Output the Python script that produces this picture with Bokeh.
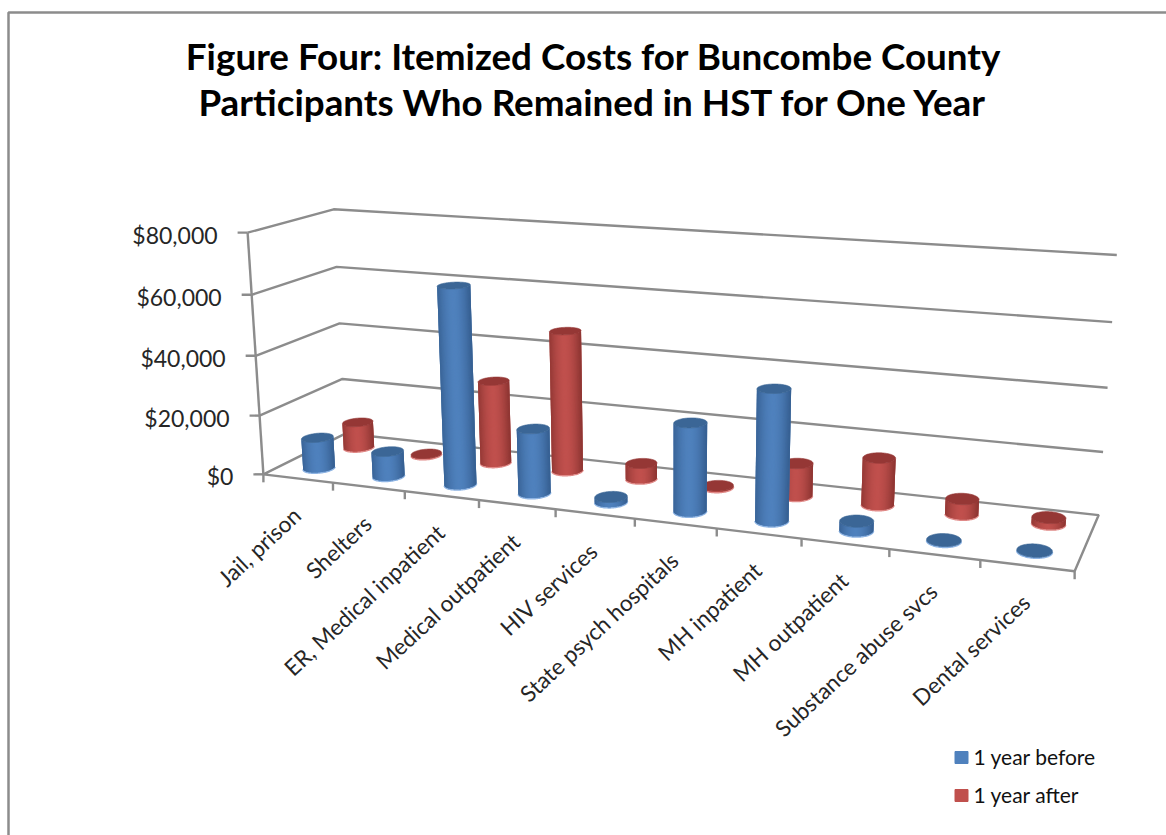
import numpy as np
from bokeh.core.properties import value
from bokeh.embed import file_html
from bokeh.models import Range1d
from bokeh.plotting import figure
from bokeh.resources import INLINE

# Chart content
title_lines = ["Figure Four: Itemized Costs for Buncombe County",
               "Participants Who Remained in HST for One Year"]
categories = ["Jail, prison", "Shelters", "ER, Medical inpatient", "Medical outpatient",
              "HIV services", "State psych hospitals", "MH inpatient", "MH outpatient",
              "Substance abuse svcs", "Dental services"]
before = [10300, 8200, 65000, 21000, 1500, 28000, 41000, 2800, 100, 100]
after = [8800, 200, 28000, 47000, 5000, 300, 10500, 15000, 4700, 1800]
y_ticks = [0, 20000, 40000, 60000, 80000]
y_labels = ["$0", "$20,000", "$40,000", "$60,000", "$80,000"]
series_names = ["1 year before", "1 year after"]

FONT = "Lato"
GRID = "#8C8C8C"
TEXT = "#262626"
BLUE = dict(mid="#4F81BD", edge="#376092", top="#3B6696", rim="#8DB3E2")
RED = dict(mid="#C0504D", edge="#8E3633", top="#953735", rim="#E08A88")
Z_MAX = 80000.0

# Perspective camera, calibrated on the corners of the chart box:
# (category fraction, depth fraction, value) -> page pixel
calib = [
    (0, 0, 0, 263, 474), (1, 0, 0, 1074, 571), (1, 1, 0, 1098, 514),
    (0, 0, 20000, 259, 415), (0, 0, 40000, 256, 355), (0, 0, 60000, 251, 294), (0, 0, 80000, 247, 232),
    (0, 1, 20000, 342, 379), (0, 1, 40000, 339, 323), (0, 1, 60000, 336, 266), (0, 1, 80000, 333, 209),
    (1, 1, 20000, 1103, 451), (1, 1, 40000, 1107, 387), (1, 1, 60000, 1112, 322), (1, 1, 80000, 1116, 255),
    (0.5, 0, 0, 634, 518), (0.2, 0, 0, 404, 491), (0.8, 0, 0, 889, 549),
]
rows = []
rhs = []
for u, d, z, px, py in calib:
    w = z / Z_MAX
    rows.append([u, d, w, 1, 0, 0, 0, 0, -px * u, -px * d, -px * w])
    rhs.append(px)
    rows.append([0, 0, 0, 0, u, d, w, 1, -py * u, -py * d, -py * w])
    rhs.append(py)
cam = np.linalg.lstsq(np.array(rows, float), np.array(rhs, float), rcond=None)[0]


def project(u, d, z):
    u, d, z = np.broadcast_arrays(np.asarray(u, float), np.asarray(d, float), np.asarray(z, float) / Z_MAX)
    q = cam[8] * u + cam[9] * d + cam[10] * z + 1
    return (cam[0] * u + cam[1] * d + cam[2] * z + cam[3]) / q, (cam[4] * u + cam[5] * d + cam[6] * z + cam[7]) / q


def mix(a, b, t):
    ca = [int(a[i:i + 2], 16) for i in (1, 3, 5)]
    cb = [int(b[i:i + 2], 16) for i in (1, 3, 5)]
    return "#%02x%02x%02x" % tuple(round(x + (y - x) * t) for x, y in zip(ca, cb))


p = figure(width=1166, height=835, output_backend="svg", toolbar_location=None,
           x_range=Range1d(0, 1166), y_range=Range1d(835, 0),
           min_border=0, outline_line_color=None, background_fill_color="white")
p.xaxis.visible = False
p.yaxis.visible = False
p.grid.visible = False

# Chart area frame
p.line([1166, 8, 8], [12, 12, 835], line_color="#8C8C8C", line_width=2.5)

# Walls, floor and gridlines
for z in y_ticks[1:]:
    xs, ys = project([0, 0, 1], [0, 1, 1], [z, z, z])
    p.line(list(xs), list(ys), line_color=GRID, line_width=2.4)
fx, fy = project([0, 0, 1, 1, 0], [0, 1, 1, 0, 0], [0, 0, 0, 0, 0])
p.line(list(fx), list(fy), line_color=GRID, line_width=2.4)
lx, ly = project([0, 0], [0, 0], [0, Z_MAX])
p.line(list(lx), list(ly), line_color=GRID, line_width=2.4)

# Tick marks on both axes
for z, lab in zip(y_ticks, y_labels):
    tx, ty = project(0, 0, z)
    p.segment([float(tx) - 10], [float(ty)], [float(tx)], [float(ty)], line_color=GRID, line_width=2.4)
    p.text([float(tx) - 30], [float(ty) + 2], text=[lab], text_font=value(FONT), text_font_size="23px",
           text_color=TEXT, text_align="right", text_baseline="middle")
for i in range(len(categories) + 1):
    tx, ty = project(i / len(categories), 0, 0)
    p.segment([float(tx)], [float(ty)], [float(tx)], [float(ty) + 8], line_color=GRID, line_width=2.4)


def cylinder(i, depth, val, pal):
    """Shaded cylinder for category i standing on the chart floor."""
    uc = (i + 0.5) / len(categories)
    a = np.linspace(0, 2 * np.pi, 97)
    cu = uc + 0.019 * np.cos(a)
    cd = depth + 0.11 * np.sin(a)
    bx, by = project(cu, cd, 0 * a)
    tx, ty = project(cu, cd, val + 0 * a)
    # visible arc: front half of the base ring between the extreme left and right points
    il, ir = int(np.argmin(bx[:-1])), int(np.argmax(bx[:-1]))
    idx = [(ir + k) % 96 for k in range(97)]
    idx = idx[:((il - ir) % 96) + 1]
    if np.mean(by[idx]) < np.mean(by):
        idx = [(ir - k) % 96 for k in range(97)]
        idx = idx[:((ir - il) % 96) + 1]
    x0, x1 = bx[il], bx[ir]
    p.line([float(v) for v in bx[idx]], [float(v) + 0.7 for v in by[idx]], line_color=pal["rim"], line_width=1.6)
    # solid body underneath, then short overlapping bands for the round shading
    p.patch([float(v) for v in bx[idx]] + [float(v) for v in tx[idx[::-1]]],
            [float(v) for v in by[idx]] + [float(v) for v in ty[idx[::-1]]],
            fill_color=pal["mid"], line_color=None)
    xs, ys, cols = [], [], []
    for k in range(len(idx) - 1):
        rest = idx[k:k + 3]
        xs.append([float(v) for v in bx[rest]] + [float(v) for v in tx[rest[::-1]]])
        ys.append([float(v) for v in by[rest]] + [float(v) for v in ty[rest[::-1]]])
        t = ((bx[idx[k]] + bx[idx[k + 1]]) / 2 - x0) / (x1 - x0)
        shade = min(abs(t - 0.47) / 0.5, 1) ** 1.8
        cols.append(mix(pal["mid"], pal["edge"], shade))
    p.patches(xs, ys, fill_color=cols, line_color=None)
    p.patch(list(tx), list(ty), fill_color=pal["top"], line_color=pal["top"], line_width=0.6)


# Back row is painted first so the front row covers it
for i, v in enumerate(after):
    cylinder(i, 0.75, v, RED)
for i, v in enumerate(before):
    cylinder(i, 0.25, v, BLUE)

# Title
for line, y in zip(title_lines, [55, 101]):
    p.text([593], [y], text=[line], text_font=value(FONT), text_font_size="36.8px", text_font_style="bold",
           text_color="#000000", text_align="center", text_baseline="middle")

# Category labels, slanted and ending under each slot
for i, c in enumerate(categories):
    tx, ty = project((i + 0.5) / len(categories), 0, 0)
    p.text([float(tx) - 1], [float(ty) + 33], text=[c], angle=[np.radians(43)], text_font=value(FONT),
           text_font_size="22.5px", text_color=TEXT, text_align="right", text_baseline="middle")

# Legend
for name, pal, y in zip(series_names, [BLUE, RED], [757, 795]):
    p.rect([961], [y], width=13, height=12, fill_color=pal["mid"], line_color=pal["mid"])
    p.text([973], [y - 1.5], text=[name], text_font=value(FONT), text_font_size="21px",
           text_color="#111111", text_align="left", text_baseline="middle")

open("out.html", "w").write(file_html(p, INLINE))
